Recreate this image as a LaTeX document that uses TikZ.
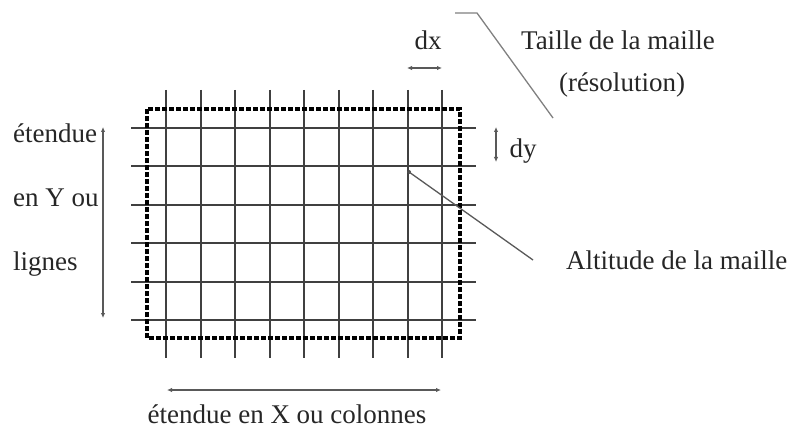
\documentclass[tikz,border=0pt]{standalone}
\usepackage{fontspec}
\setmainfont{Liberation Serif}
\usetikzlibrary{arrows.meta}
\begin{document}
\begin{tikzpicture}[x=1pt,y=-1pt,
  font=\fontsize{27}{32}\selectfont,
  lbl/.style={inner sep=0pt, text=black!85},
  gridline/.style={line width=2pt, draw=black!75},
  border/.style={line width=4.8pt, draw=black, dash pattern=on 4.6pt off 2.4pt},
  leader/.style={line width=1.3pt, draw=black!50},
  dimarrow/.style={line width=1.4pt, draw=black!65, {Latex[length=5pt,width=4.5pt]}-{Latex[length=5pt,width=4.5pt]}}]
\useasboundingbox (0,0) rectangle (794,430);
% grid
\foreach \i in {0,...,8} {
  \draw[gridline] (166+34.5*\i,90) -- (166+34.5*\i,358);
}
\foreach \j in {0,...,5} {
  \draw[gridline] (131,128+38.4*\j) -- (476,128+38.4*\j);
}
% dotted border
\draw[border] (147,109) rectangle (460,338);
% texts
\node[lbl, anchor=west] (ety) at (13,133) {étendue};
\node[lbl, anchor=west] (eny) at (13,198) {en Y ou};
\node[lbl, anchor=west] (lig) at (13,264) {lignes};
\node[lbl] (etx) at (287,414) {étendue en X ou colonnes};
\node[lbl] (dx) at (428,40) {dx};
\node[lbl] (dy) at (523,151) {dy};
\node[lbl] (taille) at (618,40) {Taille de la maille};
\node[lbl] (reso) at (622,85) {(résolution)};
\node[lbl, anchor=west] (alt) at (566,260) {Altitude de la maille};
% extent arrows
\coordinate (ytop) at (103,127);
\coordinate (ybot) at (103,318);
\draw[dimarrow] (ytop) -- (ybot);
\coordinate (xl) at (167,390);
\coordinate (xr) at (441,390);
\draw[dimarrow] (xl) -- (xr);
\coordinate (dxl) at (407,68);
\coordinate (dxr) at (442,68);
\draw[dimarrow] (dxl) -- (dxr);
\coordinate (dyt) at (496,127);
\coordinate (dyb) at (496,162);
\draw[dimarrow] (dyt) -- (dyb);
% leaders
\coordinate (t1) at (455,13);
\coordinate (t2) at (477,13);
\coordinate (t3) at (553,118);
\draw[leader] (t1) -- (t2) -- (t3);
\coordinate (cell) at (409,172);
\coordinate (a2) at (533,260);
\fill[black!70] (cell) circle (2pt);
\draw[leader, draw=black!65] (cell) -- (a2);
\end{tikzpicture}
\end{document}
